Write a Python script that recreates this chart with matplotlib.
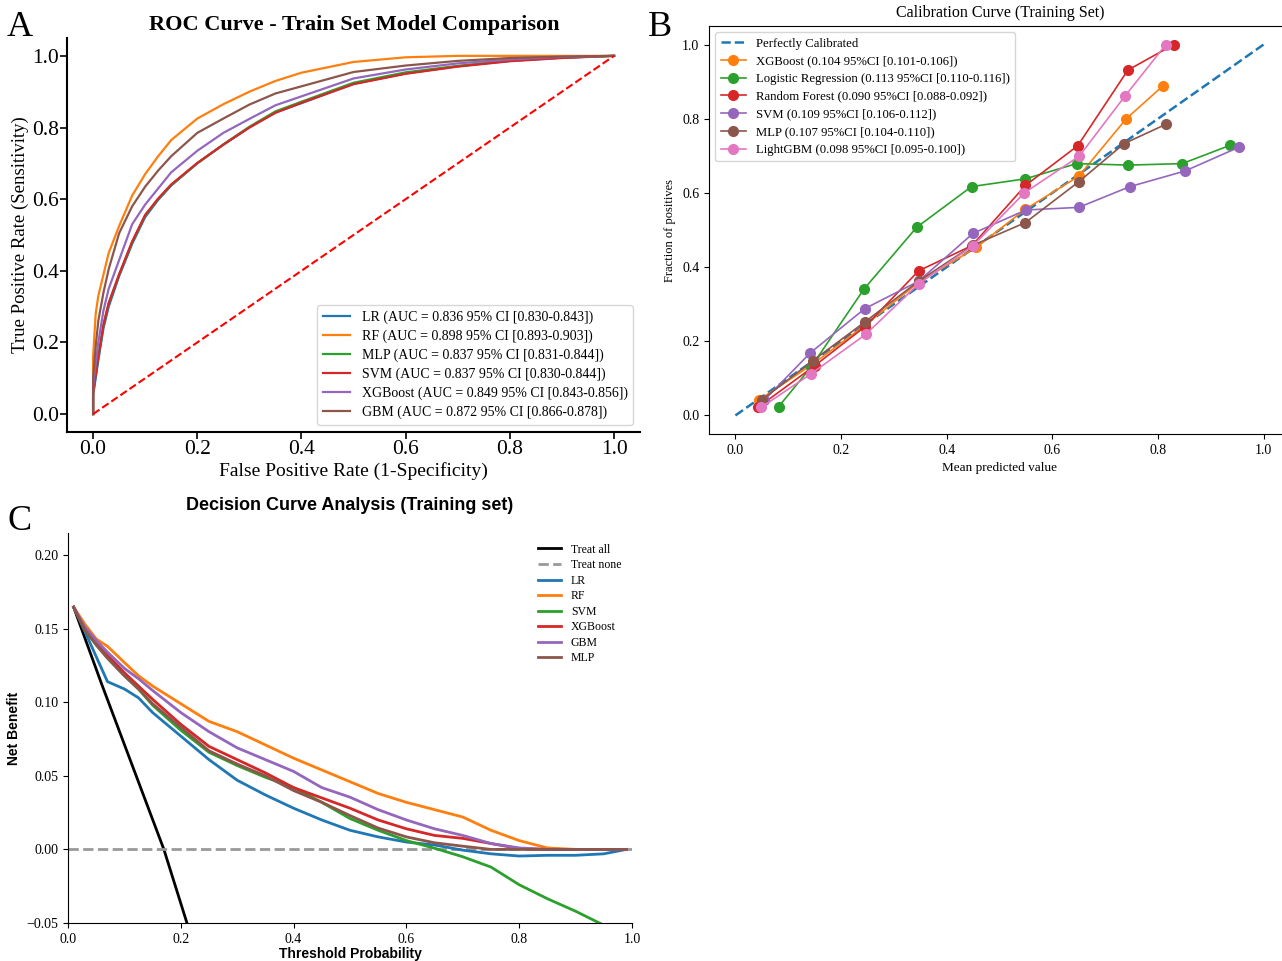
import matplotlib
matplotlib.use("Agg")
from matplotlib import pyplot as plt

plt.rcParams['font.family'] = ['Liberation Serif', 'DejaVu Serif']

# ---------- A : ROC curves (train set) ----------
roc_fpr = [0.0, 0.0, 0.005, 0.01, 0.02, 0.03, 0.05, 0.075, 0.1, 0.125, 0.15, 0.2,
           0.25, 0.3, 0.35, 0.4, 0.5, 0.6, 0.7, 0.8, 0.9, 1.0]
tpr_lr = [0, 0.05, 0.10, 0.15, 0.24, 0.30, 0.385, 0.475, 0.550, 0.598, 0.638, 0.700,
          0.752, 0.800, 0.842, 0.868, 0.922, 0.951, 0.971, 0.986, 0.995, 1.0]
tpr_rf = [0, 0.16, 0.28, 0.33, 0.39, 0.45, 0.525, 0.61, 0.670, 0.720, 0.765, 0.825,
          0.865, 0.900, 0.930, 0.953, 0.983, 0.996, 1.0, 1.0, 1.0, 1.0]
tpr_mlp = [0, 0.06, 0.11, 0.16, 0.25, 0.31, 0.39, 0.480, 0.555, 0.600, 0.640, 0.700,
           0.753, 0.802, 0.845, 0.872, 0.925, 0.954, 0.972, 0.987, 0.995, 1.0]
tpr_svm = [0, 0.06, 0.11, 0.16, 0.25, 0.31, 0.39, 0.482, 0.556, 0.602, 0.641, 0.701,
           0.752, 0.800, 0.841, 0.869, 0.921, 0.950, 0.970, 0.985, 0.994, 1.0]
tpr_xgb = [0, 0.08, 0.14, 0.20, 0.29, 0.35, 0.43, 0.530, 0.585, 0.630, 0.675, 0.735,
           0.785, 0.824, 0.862, 0.887, 0.937, 0.962, 0.979, 0.990, 0.997, 1.0]
tpr_gbm = [0, 0.10, 0.19, 0.26, 0.34, 0.405, 0.505, 0.58, 0.635, 0.680, 0.720, 0.785,
           0.825, 0.864, 0.895, 0.915, 0.955, 0.973, 0.986, 0.994, 0.998, 1.0]
roc_labels = ["LR (AUC = 0.836 95% CI [0.830-0.843])",
              "RF (AUC = 0.898 95% CI [0.893-0.903])",
              "MLP (AUC = 0.837 95% CI [0.831-0.844])",
              "SVM (AUC = 0.837 95% CI [0.830-0.844])",
              "XGBoost (AUC = 0.849 95% CI [0.843-0.856])",
              "GBM (AUC = 0.872 95% CI [0.866-0.878])"]

# ---------- B : calibration curves ----------
xgb_x = [0.045, 0.148, 0.245, 0.347, 0.456, 0.549, 0.650, 0.740, 0.809]
xgb_y = [0.042, 0.140, 0.243, 0.359, 0.453, 0.556, 0.645, 0.800, 0.888]
lr_x = [0.082, 0.143, 0.243, 0.343, 0.447, 0.549, 0.646, 0.744, 0.846, 0.936]
lr_y = [0.024, 0.130, 0.340, 0.507, 0.617, 0.638, 0.679, 0.675, 0.679, 0.728]
rf_x = [0.043, 0.150, 0.245, 0.347, 0.448, 0.549, 0.648, 0.743, 0.830]
rf_y = [0.022, 0.134, 0.239, 0.390, 0.458, 0.620, 0.727, 0.931, 1.000]
svm_x = [0.055, 0.142, 0.245, 0.347, 0.450, 0.550, 0.650, 0.747, 0.851, 0.953]
svm_y = [0.042, 0.169, 0.288, 0.362, 0.491, 0.554, 0.561, 0.617, 0.659, 0.723]
mlp_x = [0.050, 0.146, 0.245, 0.347, 0.450, 0.549, 0.650, 0.736, 0.815]
mlp_y = [0.042, 0.147, 0.252, 0.362, 0.459, 0.520, 0.630, 0.733, 0.785]
lgb_x = [0.049, 0.143, 0.247, 0.347, 0.450, 0.547, 0.651, 0.737, 0.815]
lgb_y = [0.022, 0.112, 0.219, 0.355, 0.458, 0.600, 0.699, 0.860, 1.000]
cal_labels = ["XGBoost (0.104 95%CI [0.101-0.106])",
              "Logistic Regression (0.113 95%CI [0.110-0.116])",
              "Random Forest (0.090 95%CI [0.088-0.092])",
              "SVM (0.109 95%CI [0.106-0.112])",
              "MLP (0.107 95%CI [0.104-0.110])",
              "LightGBM (0.098 95%CI [0.095-0.100])"]

# ---------- C : decision curves ----------
thr = [0.01, 0.03, 0.05, 0.07, 0.1, 0.125, 0.15, 0.2, 0.25, 0.3, 0.35, 0.4, 0.45,
       0.5, 0.55, 0.6, 0.65, 0.7, 0.75, 0.8, 0.85, 0.9, 0.95, 0.99]
nb_lr = [0.1646, 0.148, 0.131, 0.114, 0.109, 0.103, 0.093, 0.077, 0.061, 0.047, 0.037,
         0.028, 0.020, 0.013, 0.0085, 0.005, 0.003, -0.0005, -0.003, -0.0045, -0.004,
         -0.004, -0.003, 0.0]
nb_rf = [0.1646, 0.153, 0.143, 0.138, 0.127, 0.118, 0.111, 0.099, 0.087, 0.080, 0.071,
         0.062, 0.054, 0.046, 0.038, 0.032, 0.027, 0.022, 0.013, 0.006, 0.001, 0.0,
         0.0, 0.0]
nb_svm = [0.1646, 0.149, 0.139, 0.130, 0.118, 0.109, 0.098, 0.081, 0.066, 0.057, 0.049,
          0.042, 0.032, 0.021, 0.013, 0.006, 0.0008, -0.005, -0.012, -0.024, -0.0335,
          -0.042, -0.0515, -0.07]
nb_xgb = [0.1646, 0.150, 0.140, 0.132, 0.120, 0.111, 0.102, 0.085, 0.070, 0.061, 0.052,
          0.042, 0.035, 0.028, 0.020, 0.014, 0.0095, 0.0075, 0.004, 0.0006, 0.0, 0.0,
          0.0, 0.0]
nb_gbm = [0.1646, 0.151, 0.142, 0.134, 0.123, 0.116, 0.108, 0.093, 0.080, 0.069, 0.061,
          0.053, 0.042, 0.0355, 0.027, 0.020, 0.014, 0.0095, 0.004, 0.001, 0.0, 0.0,
          0.0, 0.0]
nb_mlp = [0.1646, 0.149, 0.139, 0.130, 0.118, 0.109, 0.099, 0.083, 0.067, 0.058, 0.050,
          0.040, 0.032, 0.023, 0.0145, 0.0085, 0.0045, 0.0022, 0.0, 0.0, 0.0, 0.0,
          0.0, 0.0]
treat_all_t = [0.01, 0.06, 0.17, 0.215]
treat_all_nb = [0.1646, 0.112, 0.0, -0.055]
treat_none_t = [0.0, 1.0]
treat_none_nb = [0.0, 0.0]

fig = plt.figure(figsize=(12.82, 9.61), dpi=100)

# ----- panel A -----
ax1 = fig.add_axes([0.0523, 0.5505, 0.447, 0.41])
for tpr, lab in zip([tpr_lr, tpr_rf, tpr_mlp, tpr_svm, tpr_xgb, tpr_gbm], roc_labels):
    ax1.plot(roc_fpr, tpr, lw=1.6, label=lab)
ax1.plot([0, 1], [0, 1], 'r--', lw=1.5)
ax1.set_xlim(-0.05, 1.05)
ax1.set_ylim(-0.05, 1.05)
ax1.spines['top'].set_visible(False)
ax1.spines['right'].set_visible(False)
ax1.spines['left'].set_linewidth(1.5)
ax1.spines['bottom'].set_linewidth(1.5)
ax1.tick_params(labelsize=15.5, width=1.2, length=5, pad=1)
ax1.set_xlabel("False Positive Rate (1-Specificity)", fontsize=14, labelpad=2)
ax1.set_ylabel("True Positive Rate (Sensitivity)", fontsize=13.5, labelpad=2)
ax1.legend(loc='lower right', fontsize=10, labelspacing=0.4)
fig.text(354 / 1282, 1 - 25 / 961, "ROC Curve - Train Set Model Comparison",
         fontsize=16, fontweight='bold', ha='center', va='center')

# ----- panel B -----
ax2 = fig.add_axes([709 / 1282, 1 - 434 / 961, 581 / 1282, 408 / 961])
ax2.plot([0, 1], [0, 1], '--', color='tab:blue', lw=1.8, label="Perfectly Calibrated")
cal_x = [xgb_x, lr_x, rf_x, svm_x, mlp_x, lgb_x]
cal_y = [xgb_y, lr_y, rf_y, svm_y, mlp_y, lgb_y]
cal_col = ['tab:orange', 'tab:green', 'tab:red', 'tab:purple', 'tab:brown', 'tab:pink']
for cx, cy, c, lab in zip(cal_x, cal_y, cal_col, cal_labels):
    ax2.plot(cx, cy, marker='o', ms=7, lw=1.2, color=c, label=lab)
ax2.set_xlim(-0.05, 1.05)
ax2.set_ylim(-0.05, 1.05)
ax2.tick_params(labelsize=10)
ax2.set_xlabel("Mean predicted value", fontsize=9.5)
ax2.set_ylabel("Fraction of positives", fontsize=9)
ax2.legend(loc='upper left', fontsize=9.2, labelspacing=0.45)
fig.text(1000 / 1282, 1 - 13 / 961, "Calibration Curve (Training Set)", fontsize=11.5,
         ha='center', va='center')

# ----- panel C -----
ax3 = fig.add_axes([68 / 1282, 1 - 923 / 961, 564 / 1282, 390 / 961])
ax3.plot(treat_all_t, treat_all_nb, color='black', lw=2, label="Treat all")
ax3.plot(treat_none_t, treat_none_nb, '--', color='#999999', lw=2, label="Treat none")
dca = [nb_lr, nb_rf, nb_svm, nb_xgb, nb_gbm, nb_mlp]
dca_lab = ["LR", "RF", "SVM", "XGBoost", "GBM", "MLP"]
dca_col = ['tab:blue', 'tab:orange', 'tab:green', 'tab:red', 'tab:purple', 'tab:brown']
for nb, lab, c in zip(dca, dca_lab, dca_col):
    ax3.plot(thr, nb, lw=2, color=c, label=lab)
ax3.set_xlim(0, 1)
ax3.set_ylim(-0.05, 0.215)
ax3.set_yticks([-0.05, 0.0, 0.05, 0.10, 0.15, 0.20])
ax3.spines['top'].set_visible(False)
ax3.spines['right'].set_visible(False)
ax3.tick_params(labelsize=10)
ax3.set_xlabel("Threshold Probability", fontsize=10, fontweight='bold',
               family=['Liberation Sans', 'DejaVu Sans'], labelpad=1)
ax3.set_ylabel("Net Benefit", fontsize=10, fontweight='bold',
               family=['Liberation Sans', 'DejaVu Sans'])
ax3.legend(loc='upper right', fontsize=8.5, frameon=False, labelspacing=0.3)
fig.text(350 / 1282, 1 - 505 / 961, "Decision Curve Analysis (Training set)", fontsize=13,
         fontweight='bold', family=['Liberation Sans', 'DejaVu Sans'],
         ha='center', va='center')

# panel letters
fig.text(20 / 1282, 1 - 28 / 961, "A", fontsize=26, ha='center', va='center')
fig.text(660 / 1282, 1 - 28 / 961, "B", fontsize=26, ha='center', va='center')
fig.text(20 / 1282, 1 - 522 / 961, "C", fontsize=26, ha='center', va='center')

fig.savefig("out.png", dpi=100)
